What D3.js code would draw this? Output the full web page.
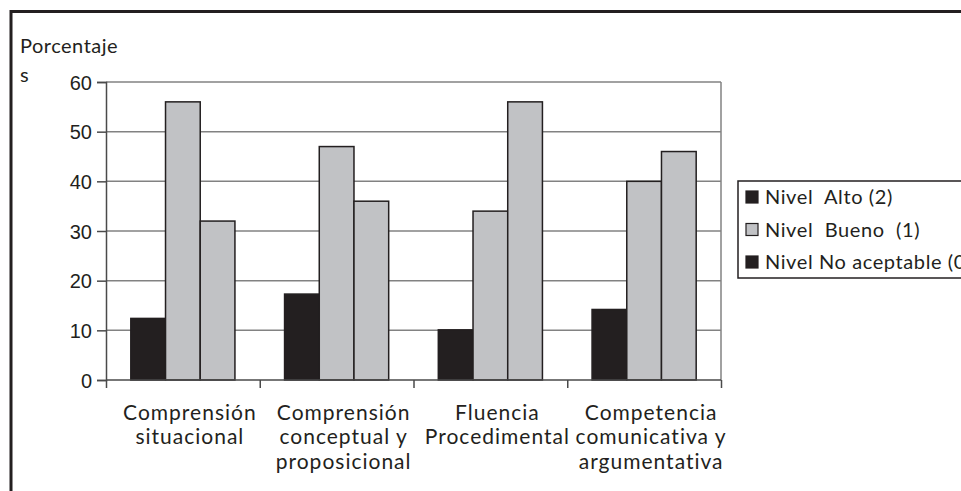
<!DOCTYPE html>
<html><head><meta charset="utf-8">
<script src="https://cdn.jsdelivr.net/npm/d3@7"></script>
<style>
html,body{margin:0;padding:0;background:#fff;}
svg{display:block;}
</style></head>
<body>
<svg id="chart" width="961" height="491"></svg>
<script>
// ---- data ----
const categories = [
  ["Comprensión", "situacional"],
  ["Comprensión", "conceptual y", "proposicional"],
  ["Fluencia", "Procedimental"],
  ["Competencia", "comunicativa y", "argumentativa"]
];
const seriesNames = ["Nivel  Alto (2)", "Nivel  Bueno  (1)", "Nivel No aceptable (0)"];
const seriesAlto = [12.4, 17.3, 10.1, 14.2];
const seriesBueno = [56, 47, 34, 40];
const seriesNoAceptable = [32, 36, 56, 46];
const yTicks = [0, 10, 20, 30, 40, 50, 60];
const barColors = ["#231f20", "#c1c2c5", "#c1c2c5"];
const legendColors = ["#231f20", "#c1c2c5", "#231f20"];
const yTitle = ["Porcentaje", "s"];

const allSeries = [seriesAlto, seriesBueno, seriesNoAceptable];

const svg = d3.select("#chart");
const m = {left: 106, right: 721, top: 82, bottom: 380};
const labelFont = "Lato, 'Open Sans', sans-serif";

// frame
svg.append("path").attr("d", "M11,491 V11.5 H961")
  .attr("fill", "none").attr("stroke", "#231f20").attr("stroke-width", 3);

const x0 = d3.scaleBand().domain(d3.range(categories.length)).range([m.left, m.right]).paddingInner(0).paddingOuter(0);
const x1 = d3.scaleBand().domain(d3.range(allSeries.length)).range([0, x0.bandwidth()]).paddingInner(0).paddingOuter(0.715);
const y = d3.scaleLinear().domain([0, 60]).range([m.bottom, m.top]);

// gridlines
svg.append("g").selectAll("line").data(yTicks.filter(t => t > 0)).join("line")
  .attr("x1", m.left).attr("x2", m.right)
  .attr("y1", d => y(d)).attr("y2", d => y(d))
  .attr("stroke", "#828282").attr("stroke-width", 1.5);
// right border
svg.append("line").attr("x1", m.right).attr("x2", m.right).attr("y1", m.top).attr("y2", m.bottom)
  .attr("stroke", "#828282").attr("stroke-width", 1.5);

// bars
const groups = svg.append("g").selectAll("g").data(categories).join("g")
  .attr("transform", (d, i) => `translate(${x0(i)},0)`);
groups.selectAll("rect").data((d, i) => allSeries.map((s, j) => ({j, v: s[i]}))).join("rect")
  .attr("x", d => x1(d.j)).attr("width", x1.bandwidth())
  .attr("y", d => y(d.v)).attr("height", d => y(0) - y(d.v))
  .attr("fill", d => barColors[d.j]).attr("stroke", "#231f20").attr("stroke-width", 1.5);

// y axis
const yAxis = d3.axisLeft(y).tickValues(yTicks).tickSize(9).tickPadding(5);
const gy = svg.append("g").attr("transform", `translate(${m.left},0)`).call(yAxis);
gy.select(".domain").attr("stroke", "#4a4a4a").attr("stroke-width", 1.5);
gy.selectAll(".tick line").attr("stroke", "#4a4a4a").attr("stroke-width", 1.5);
gy.selectAll(".tick text").attr("font-family", "'Liberation Sans', Arial, sans-serif")
  .attr("font-size", 20).attr("fill", "#231f20").attr("dy", "0.35em");

// x axis
const xTickScale = d3.scaleLinear().domain([0, categories.length]).range([m.left, m.right]);
const xAxis = d3.axisBottom(xTickScale).tickValues(d3.range(0, categories.length + 1)).tickSize(8).tickFormat("");
const gx = svg.append("g").attr("transform", `translate(0,${m.bottom})`).call(xAxis);
gx.select(".domain").attr("stroke", "#4a4a4a").attr("stroke-width", 1.5).attr("d", `M${m.left},0H${m.right}`);
gx.selectAll(".tick line").attr("stroke", "#4a4a4a").attr("stroke-width", 1.5);

// category labels
const catG = svg.append("g").attr("font-family", labelFont).attr("font-size", 21)
  .attr("letter-spacing", 1).attr("fill", "#231f20");
categories.forEach((lines, i) => {
  const cx = x0(i) + x0.bandwidth() / 2 + 7;
  catG.append("text").attr("text-anchor", "middle")
    .selectAll("tspan").data(lines).join("tspan")
    .attr("x", cx).attr("y", (d, k) => 419.5 + k * 24.5).text(d => d);
});

// y title
svg.append("g").attr("font-family", labelFont).attr("font-size", 20)
  .attr("letter-spacing", 0.5).attr("fill", "#231f20")
  .selectAll("text").data(yTitle).join("text")
  .attr("x", 20).attr("y", (d, k) => 53 + k * 29).text(d => d);

// legend
const lg = svg.append("g");
lg.append("rect").attr("x", 738).attr("y", 181).attr("width", 260).attr("height", 97)
  .attr("fill", "#fff").attr("stroke", "#231f20").attr("stroke-width", 1.5);
const items = lg.selectAll("g.item").data(seriesNames).join("g").attr("class", "item")
  .attr("transform", (d, i) => `translate(746,${197 + i * 32.5})`);
items.append("rect").attr("x", 0).attr("y", -6).attr("width", 12).attr("height", 12)
  .attr("fill", (d, i) => legendColors[i]).attr("stroke", "#231f20").attr("stroke-width", 1.2);
items.append("text").attr("x", 19).attr("dy", "0.35em")
  .attr("font-family", labelFont).attr("font-size", 20).attr("letter-spacing", 0.6).attr("fill", "#231f20")
  .style("white-space", "pre").attr("xml:space", "preserve").text(d => d);
</script>
</body></html>
